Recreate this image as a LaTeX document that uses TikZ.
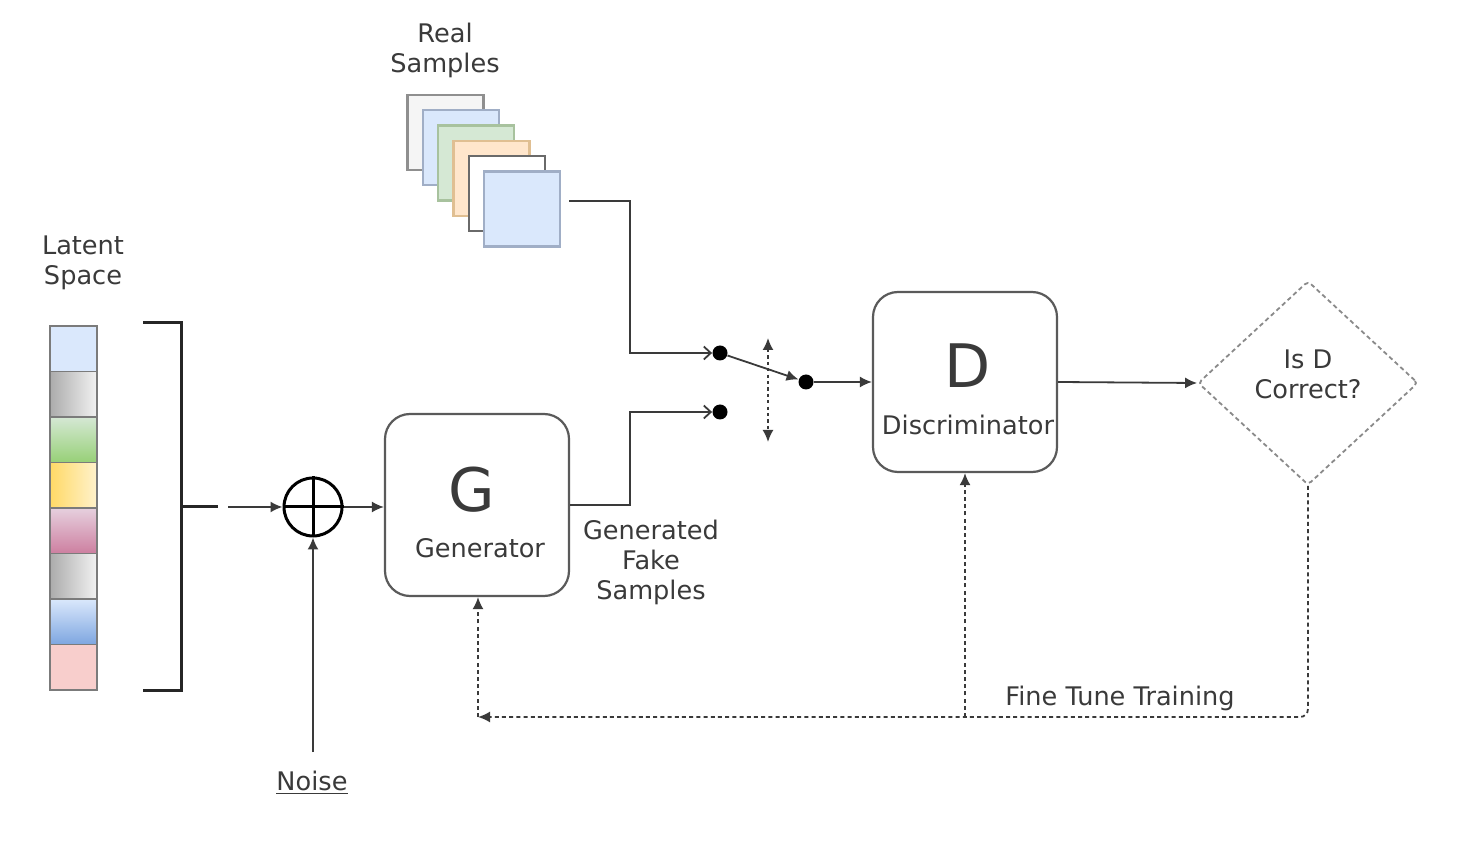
\documentclass[tikz,border=0pt]{standalone}
\usepackage{fontspec}
\setmainfont{DejaVu Sans}
\usetikzlibrary{arrows.meta,shapes.geometric,calc}

\definecolor{ink}{HTML}{3A3A3A}
\definecolor{wire}{HTML}{3A3A3A}
\definecolor{frame}{HTML}{5A5A5A}
\definecolor{lblue}{HTML}{DAE8FC}
\definecolor{mblue}{HTML}{7EA6E0}
\definecolor{gdark}{HTML}{ABABAB}
\definecolor{glight}{HTML}{F2F2F2}
\definecolor{lgreen}{HTML}{D5E8D4}
\definecolor{mgreen}{HTML}{97D077}
\definecolor{dyellow}{HTML}{FFD966}
\definecolor{lyellow}{HTML}{FFF2CC}
\definecolor{lmauve}{HTML}{E6D0DE}
\definecolor{mmauve}{HTML}{CD7FA0}
\definecolor{lpink}{HTML}{F8CECC}
\definecolor{paper}{HTML}{F5F5F5}
\definecolor{lorange}{HTML}{FFE6CC}
\definecolor{edgegray}{HTML}{8F8F8F}
\definecolor{edgeblue}{HTML}{A0AEC6}
\definecolor{edgegreen}{HTML}{A8C29E}
\definecolor{edgeorange}{HTML}{E0BF92}
\definecolor{edgedark}{HTML}{6A6A6A}
\definecolor{dashgray}{HTML}{8A8A8A}

\tikzset{
  lbl/.style={text=ink, align=center, inner sep=0pt,
              font=\fontsize{12.8}{15}\selectfont},
  bigl/.style={text=ink, inner sep=0pt, font=\fontsize{30}{30}\selectfont},
  proc/.style={draw=frame, line width=1.1pt, rounded corners=12.5pt, fill=white,
               inner sep=0pt},
  cell/.style={draw=frame!80, line width=0.6pt, minimum width=23.5pt,
               minimum height=22.75pt, inner sep=0pt},
  sq/.style={line width=1.1pt, minimum width=38pt, minimum height=37.5pt, inner sep=0pt},
  conn/.style={draw=wire, line width=0.9pt},
  arr/.style={conn, -{Latex[length=6pt,width=5.5pt]}},
  barb/.style={conn, -{Straight Barb[length=3.5pt,width=6.5pt]}},
  fb/.style={draw=wire, line width=0.9pt, dash pattern=on 2pt off 1.6pt,
             -{Latex[length=6pt,width=5.5pt]}},
  dotnode/.style={circle, fill=black, minimum size=7.5pt, inner sep=0pt},
}

\begin{document}
\begin{tikzpicture}[x=0.5pt,y=-0.5pt]
  \useasboundingbox[fill=white] (0,0) rectangle (1478,860);

  % labels
  \node[lbl] (latent) at (83,263) {Latent\\Space};
  \node[lbl] (real)   at (445,50) {Real\\Samples};
  \node[lbl] (fake)   at (651,562) {Generated\\Fake\\Samples};
  \node[lbl] (fine)   at (1120,698) {Fine Tune Training};
  \node[lbl] (noise)  at (312,783) {\underline{Noise}};

  % latent vector, one cell per dimension
  \node[cell, fill=lblue] (z0) at (73.5,348.75) {};
  \node[cell, left color=gdark, right color=glight] (z1) at (73.5,394.25) {};
  \node[cell, top color=lgreen, bottom color=mgreen] (z2) at (73.5,439.75) {};
  \node[cell, left color=dyellow, right color=lyellow] (z3) at (73.5,485.25) {};
  \node[cell, top color=lmauve, bottom color=mmauve] (z4) at (73.5,530.75) {};
  \node[cell, left color=gdark, right color=glight] (z5) at (73.5,576.25) {};
  \node[cell, top color=lblue, bottom color=mblue] (z6) at (73.5,621.75) {};
  \node[cell, fill=lpink] (z7) at (73.5,667.25) {};

  % bracket gathering the latent vector
  \draw[draw=black!85, line width=1.5pt]
    (143,323) -- (181,323) -- (181,690) -- (143,690);
  \draw[draw=black!85, line width=1.5pt] (181,507) -- (218,507);
  \coordinate (zout) at (228,507);

  % noise summing junction
  \node[circle, draw=black, line width=1.5pt, minimum size=29pt, inner sep=0pt]
    (plus) at (313,507) {};
  \draw[black, line width=1.5pt] (plus.north) -- (plus.south);
  \draw[black, line width=1.5pt] (plus.west) -- (plus.east);
  \coordinate (nz) at (313,752);

  % generator
  \node[proc, minimum width=92pt, minimum height=91pt] (G) at (477,505) {};
  \node[bigl] (Gl) at (472,490) {G};
  \node[lbl] (Gt) at (480,548) {Generator};

  % stack of real samples
  \node[sq, fill=paper, draw=edgegray] (r0) at (445.5,132.5) {};
  \node[sq, fill=lblue, draw=edgeblue] (r1) at (460.8,147.8) {};
  \node[sq, fill=lgreen, draw=edgegreen] (r2) at (476.1,163.1) {};
  \node[sq, fill=lorange, draw=edgeorange] (r3) at (491.4,178.4) {};
  \node[sq, fill=white, draw=edgedark] (r4) at (506.7,193.7) {};
  \node[sq, fill=lblue, draw=edgeblue] (r5) at (522.0,209.0) {};
  \coordinate (rout) at (569,201);

  % switch contacts
  \node[dotnode] (rd) at (720,353) {};
  \node[dotnode] (fk) at (720,412) {};
  \node[dotnode] (sw) at (806,382) {};
  \coordinate (bendR) at (630,353);
  \coordinate (bendF) at (630,412);
  \coordinate (swT) at (768,338);
  \coordinate (swB) at (768,442);

  % discriminator
  \node[proc, minimum width=92pt, minimum height=90pt] (D) at (965,382) {};
  \node[bigl] (Dl) at (968,366) {D};
  \node[lbl] (Dt) at (968,425) {Discriminator};

  % decision
  \node[diamond, draw=dashgray, line width=0.9pt, dash pattern=on 2.2pt off 1.6pt,
        minimum width=110pt, minimum height=102pt, inner sep=0pt, rounded corners=2pt]
    (chk) at (1308,383) {};
  \node[lbl] (chkt) at (1308,374) {Is D\\Correct?};

  % forward path
  \draw[arr] (zout) -- (plus.west);
  \draw[arr] (nz) -- (plus.south);
  \draw[arr] (plus.east) -- (plus.east -| G.west);
  \draw[barb] (G.east) -| (bendF) -- (fk);
  \draw[barb] (rout) -| (bendR) -- (rd);
  \draw[arr] (rd) -- (sw);
  \draw[draw=wire, line width=0.9pt, dash pattern=on 1.6pt off 1.6pt,
        {Latex[length=6pt,width=5.5pt]}-{Latex[length=6pt,width=5.5pt]}] (swT) -- (swB);
  \draw[arr] (sw) -- (sw -| D.west);
  \draw[arr] (D.east) -- (chk.west);

  % training feedback
  \coordinate (fbL) at (478,717);
  \draw[fb, rounded corners=4pt] (chk.south) |- (fbL);
  \draw[fb] (fbL) -- (fbL |- G.south);
  \draw[fb] (D.south |- fbL) -- (D.south);
\end{tikzpicture}
\end{document}
